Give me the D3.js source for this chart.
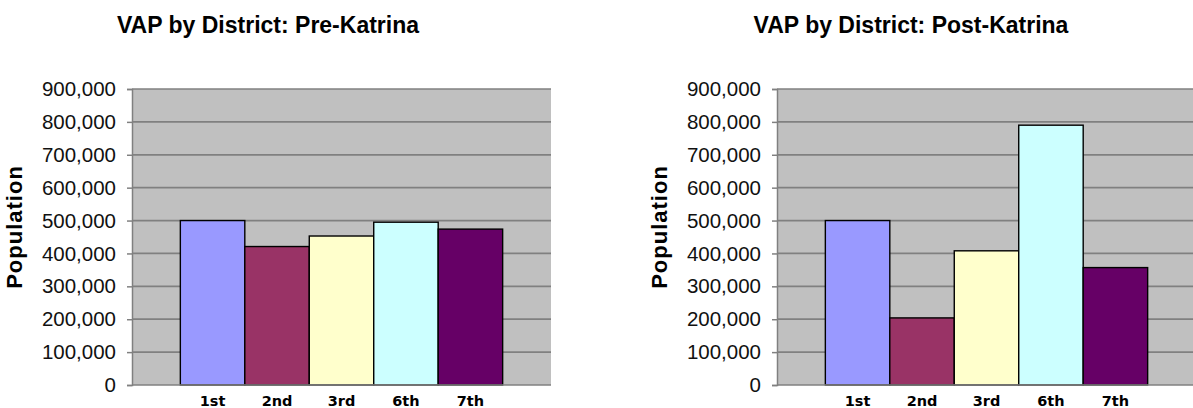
<!DOCTYPE html>
<html>
<head>
<meta charset="utf-8">
<script src="https://cdn.jsdelivr.net/npm/d3@7"></script>
<style>
  html, body { margin: 0; padding: 0; background: #fff; }
  svg { display: block; }
</style>
</head>
<body>
<div id="chart"></div>
<script>
const districts = ['1st', '2nd', '3rd', '6th', '7th']
const preKatrina = [500000, 421000, 453000, 495000, 474000]
const postKatrina = [500000, 204000, 408000, 790000, 357000]
const barColors = ['#9999FF', '#993366', '#FFFFCC', '#CCFFFF', '#660066']
const yTicks = [0, 100000, 200000, 300000, 400000, 500000, 600000, 700000, 800000, 900000]

const width = 1193
const height = 408
const plotTop = 89
const plotBottom = 385

const svg = d3.select('#chart')
  .append('svg')
  .attr('width', width)
  .attr('height', height)

function drawChart (title, values, left, right, titleX) {
  const g = svg.append('g')

  const x = d3.scaleBand(districts, [left, right])
    .paddingInner(0)
    .paddingOuter(0.75)

  const y = d3.scaleLinear([0, 900000], [plotBottom, plotTop])

  g.append('rect')
    .attr('x', left)
    .attr('y', plotTop)
    .attr('width', right - left)
    .attr('height', plotBottom - plotTop)
    .attr('fill', '#C0C0C0')

  // gridlines
  g.selectAll('.grid')
    .data(yTicks.filter(d => d > 0))
    .join('line')
    .attr('x1', left)
    .attr('x2', right)
    .attr('y1', d => y(d))
    .attr('y2', d => y(d))
    .attr('stroke', '#808080')
    .attr('stroke-width', 1.7)

  g.selectAll('.bar')
    .data(values)
    .join('rect')
    .attr('x', (d, i) => x(districts[i]))
    .attr('y', d => y(d))
    .attr('width', x.bandwidth())
    .attr('height', d => y(0) - y(d))
    .attr('fill', (d, i) => barColors[i])
    .attr('stroke', '#000')
    .attr('stroke-width', 1.4)

  const yAxis = d3.axisLeft(y)
    .tickValues(yTicks)
    .tickFormat(d3.format(','))
    .tickSize(5)
    .tickPadding(11)

  const ax = g.append('g')
    .attr('transform', `translate(${left}, 0)`)
    .call(yAxis)
  ax.select('.domain').attr('stroke', '#808080').attr('stroke-width', 1.5)
  ax.selectAll('.tick line').attr('stroke', '#808080').attr('stroke-width', 1.5)
  ax.selectAll('.tick text')
    .attr('fill', '#111')
    .style('font-family', '"Liberation Sans", Arial, sans-serif')
    .style('font-size', '20.5px')

  // baseline
  g.append('line')
    .attr('x1', left)
    .attr('x2', right)
    .attr('y1', y(0))
    .attr('y2', y(0))
    .attr('stroke', '#808080')
    .attr('stroke-width', 1.5)

  g.selectAll('.xlabel')
    .data(districts)
    .join('text')
    .attr('x', d => x(d) + x.bandwidth() / 2)
    .attr('y', 406)
    .attr('text-anchor', 'middle')
    .style('font-family', '"DejaVu Sans", Verdana, sans-serif')
    .style('font-weight', 'bold')
    .style('font-size', '14.5px')
    .text(d => d)

  g.append('text')
    .attr('transform', `translate(${left - 110}, 227) rotate(-90)`)
    .attr('text-anchor', 'middle')
    .style('font-family', '"Liberation Sans", Arial, sans-serif')
    .style('font-weight', 'bold')
    .style('font-size', '22px')
    .style('letter-spacing', '1px')
    .text('Population')

  g.append('text')
    .attr('x', titleX)
    .attr('y', 33)
    .attr('text-anchor', 'middle')
    .style('font-family', '"Liberation Sans", Arial, sans-serif')
    .style('font-weight', 'bold')
    .style('font-size', '23px')
    .text(title)
}

drawChart('VAP by District: Pre-Katrina', preKatrina, 132, 551, 268)
drawChart('VAP by District: Post-Katrina', postKatrina, 777, 1196, 911)
</script>
</body>
</html>
